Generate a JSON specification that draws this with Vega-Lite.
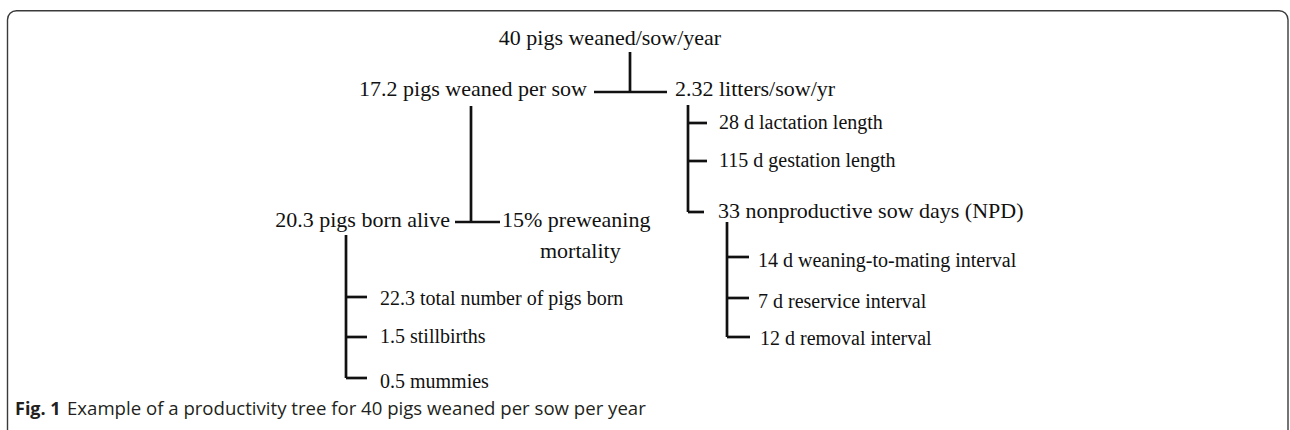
{
  "$schema": "https://vega.github.io/schema/vega-lite/v6.json",
  "width": 1290,
  "height": 430,
  "autosize": {"type": "fit", "contains": "padding"},
  "padding": 0,
  "background": "white",
  "config": {"view": {"stroke": null}},
  "datasets": {
    "frame": [{"x": 7.5, "x2": 1288, "y": 10.7, "y2": 470}],
    "edges": [
      {"x": 630, "y": 52, "x2": 630, "y2": 92},
      {"x": 594, "y": 92, "x2": 667, "y2": 92},
      {"x": 471, "y": 106, "x2": 471, "y2": 222},
      {"x": 455, "y": 222, "x2": 500, "y2": 222},
      {"x": 346, "y": 235, "x2": 346, "y2": 378},
      {"x": 346, "y": 297, "x2": 367, "y2": 297},
      {"x": 346, "y": 337, "x2": 367, "y2": 337},
      {"x": 346, "y": 378, "x2": 367, "y2": 378},
      {"x": 688, "y": 105, "x2": 688, "y2": 212},
      {"x": 688, "y": 123, "x2": 707, "y2": 123},
      {"x": 688, "y": 161, "x2": 707, "y2": 161},
      {"x": 688, "y": 212, "x2": 704, "y2": 212},
      {"x": 727, "y": 222, "x2": 727, "y2": 337},
      {"x": 727, "y": 257, "x2": 749, "y2": 257},
      {"x": 727, "y": 298, "x2": 749, "y2": 298},
      {"x": 727, "y": 337, "x2": 750, "y2": 337}
    ],
    "labels": [
      {"label": "40 pigs weaned/sow/year", "x": 610, "y": 45, "kind": "root"},
      {"label": "17.2 pigs weaned per sow", "x": 587, "y": 96, "kind": "nodeLeft"},
      {"label": "20.3 pigs born alive", "x": 450, "y": 227, "kind": "nodeLeft"},
      {"label": "2.32 litters/sow/yr", "x": 675, "y": 96, "kind": "nodeRight"},
      {"label": "33 nonproductive sow days (NPD)", "x": 718, "y": 218, "kind": "nodeRight"},
      {"label": "15% preweaning", "x": 502, "y": 227, "kind": "nodeRight"},
      {"label": "mortality", "x": 540, "y": 258, "kind": "nodeRight"},
      {"label": "28 d lactation length", "x": 719, "y": 129, "kind": "leaf"},
      {"label": "115 d gestation length", "x": 719, "y": 167, "kind": "leaf"},
      {"label": "14 d weaning-to-mating interval", "x": 758, "y": 267, "kind": "leaf"},
      {"label": "7 d reservice interval", "x": 758, "y": 308, "kind": "leaf"},
      {"label": "12 d removal interval", "x": 760, "y": 345, "kind": "leaf"},
      {"label": "22.3 total number of pigs born", "x": 380, "y": 305, "kind": "leaf"},
      {"label": "1.5 stillbirths", "x": 380, "y": 343, "kind": "leaf"},
      {"label": "0.5 mummies", "x": 380, "y": 388, "kind": "leaf"},
      {"label": "Fig. 1", "x": 15, "y": 415, "kind": "captionBold"},
      {"label": "Example of a productivity tree for 40 pigs weaned per sow per year", "x": 67, "y": 415, "kind": "caption"}
    ]
  },
  "encoding": {
    "x": {"field": "x", "type": "quantitative", "scale": {"domain": [0, 1290], "nice": false, "zero": false}, "axis": null},
    "y": {"field": "y", "type": "quantitative", "scale": {"domain": [0, 430], "nice": false, "zero": false, "reverse": true}, "axis": null}
  },
  "layer": [
    {
      "data": {"name": "frame"},
      "mark": {"type": "rect", "fill": "transparent", "stroke": "#3a3a3a", "strokeWidth": 1.4, "cornerRadius": 9, "clip": true},
      "encoding": {"x2": {"field": "x2"}, "y2": {"field": "y2"}}
    },
    {
      "data": {"name": "edges"},
      "mark": {"type": "rule", "color": "#111", "strokeWidth": 2.7},
      "encoding": {"x2": {"field": "x2"}, "y2": {"field": "y2"}}
    },
    {
      "data": {"name": "labels"},
      "transform": [{"filter": "datum.kind === 'root'"}],
      "mark": {"type": "text", "font": "Liberation Serif", "fontSize": 22, "align": "center", "baseline": "alphabetic", "color": "#111"},
      "encoding": {"text": {"field": "label"}}
    },
    {
      "data": {"name": "labels"},
      "transform": [{"filter": "datum.kind === 'nodeLeft'"}],
      "mark": {"type": "text", "font": "Liberation Serif", "fontSize": 22, "align": "right", "baseline": "alphabetic", "color": "#111"},
      "encoding": {"text": {"field": "label"}}
    },
    {
      "data": {"name": "labels"},
      "transform": [{"filter": "datum.kind === 'nodeRight'"}],
      "mark": {"type": "text", "font": "Liberation Serif", "fontSize": 22, "align": "left", "baseline": "alphabetic", "color": "#111"},
      "encoding": {"text": {"field": "label"}}
    },
    {
      "data": {"name": "labels"},
      "transform": [{"filter": "datum.kind === 'leaf'"}],
      "mark": {"type": "text", "font": "Liberation Serif", "fontSize": 20, "align": "left", "baseline": "alphabetic", "color": "#111"},
      "encoding": {"text": {"field": "label"}}
    },
    {
      "data": {"name": "labels"},
      "transform": [{"filter": "datum.kind === 'captionBold'"}],
      "mark": {"type": "text", "font": "Open Sans", "fontSize": 18, "fontWeight": "bold", "align": "left", "baseline": "alphabetic", "color": "#231f20"},
      "encoding": {"text": {"field": "label"}}
    },
    {
      "data": {"name": "labels"},
      "transform": [{"filter": "datum.kind === 'caption'"}],
      "mark": {"type": "text", "font": "Open Sans", "fontSize": 18.6, "align": "left", "baseline": "alphabetic", "color": "#231f20"},
      "encoding": {"text": {"field": "label"}}
    }
  ]
}
